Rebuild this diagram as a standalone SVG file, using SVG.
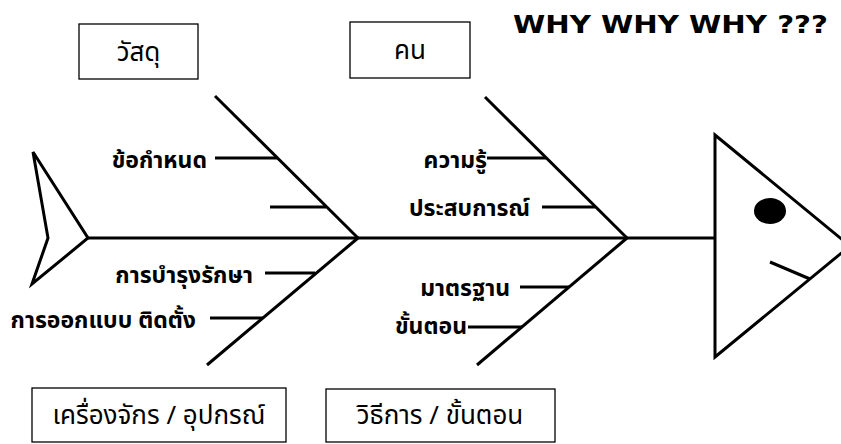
<svg xmlns="http://www.w3.org/2000/svg" width="841" height="444" viewBox="0 0 841 444">
<style>
.ln{stroke:#000;stroke-width:3;fill:none;stroke-linecap:butt}
.box{fill:#fff;stroke:#000;stroke-width:1.3}
.cat{font-family:"Noto Sans Thai","Tahoma","DejaVu Sans",sans-serif;font-size:26px;fill:#000}
.lbl{font-family:"Noto Sans Thai","Tahoma","DejaVu Sans",sans-serif;font-size:23px;font-weight:bold;fill:#000}
.ttl{font-family:"DejaVu Sans","Liberation Sans",sans-serif;font-size:25px;font-weight:bold;fill:#000}
</style>
<rect width="841" height="444" fill="#fff"/>
<text class="ttl" x="513" y="33" textLength="315" lengthAdjust="spacingAndGlyphs">WHY WHY WHY ???</text>
<g id="connectors">
<line class="ln" x1="88" y1="238" x2="715" y2="238"/>
<line class="ln" x1="215" y1="96" x2="358" y2="238"/>
<line class="ln" x1="358" y1="238" x2="207" y2="365"/>
<line class="ln" x1="485" y1="97" x2="627" y2="238"/>
<line class="ln" x1="627" y1="238" x2="477" y2="365"/>
<line class="ln" x1="215" y1="158" x2="277" y2="158"/>
<line class="ln" x1="270" y1="207" x2="326" y2="207"/>
<line class="ln" x1="265" y1="273" x2="315" y2="273"/>
<line class="ln" x1="210" y1="318" x2="263" y2="318"/>
<line class="ln" x1="487" y1="158" x2="546" y2="158"/>
<line class="ln" x1="542" y1="207" x2="595" y2="207"/>
<line class="ln" x1="520" y1="287" x2="569" y2="287"/>
<line class="ln" x1="468" y1="327" x2="522" y2="327"/>
</g>
<g id="tail"><polygon class="ln" points="33,152 88,238 32,284 48,238" stroke-linejoin="miter"/></g>
<g id="head">
<polygon class="ln" points="715,135 850,246 715,357"/>
<ellipse cx="770" cy="211" rx="16" ry="13" fill="#000"/>
<line class="ln" x1="770" y1="262" x2="810" y2="279"/>
</g>
<g id="materials"><rect class="box" x="79" y="24" width="119" height="55"/><text class="cat" x="138.5" y="61" text-anchor="middle">วัสดุ</text></g>
<g id="people"><rect class="box" x="350" y="22" width="120" height="56"/><text class="cat" x="410" y="59" text-anchor="middle">คน</text></g>
<g id="machines"><rect class="box" x="32" y="388" width="254" height="54"/><text class="cat" x="159" y="424" text-anchor="middle">เครื่องจักร / อุปกรณ์</text></g>
<g id="methods"><rect class="box" x="326" y="389" width="229" height="53"/><text class="cat" x="440" y="424" text-anchor="middle">วิธีการ / ขั้นตอน</text></g>
<g id="labels">
<text class="lbl" x="207" y="168" text-anchor="end">ข้อกำหนด</text>
<text class="lbl" x="253" y="283" text-anchor="end">การบำรุงรักษา</text>
<text class="lbl" x="196" y="328" text-anchor="end">การออกแบบ ติดตั้ง</text>
<text class="lbl" x="487" y="168" text-anchor="end">ความรู้</text>
<text class="lbl" x="530" y="216" text-anchor="end">ประสบการณ์</text>
<text class="lbl" x="510" y="296" text-anchor="end">มาตรฐาน</text>
<text class="lbl" x="467" y="334" text-anchor="end">ขั้นตอน</text>
</g>
</svg>
